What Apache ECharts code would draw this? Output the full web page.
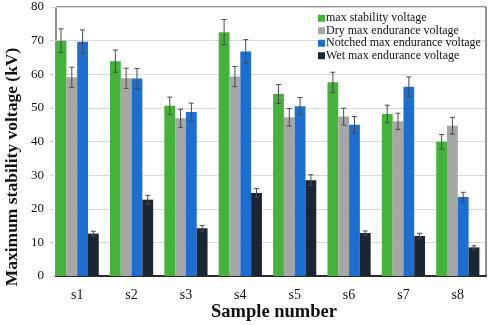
<!DOCTYPE html>
<html><head><meta charset="utf-8">
<script src="https://cdn.jsdelivr.net/npm/echarts@6/dist/echarts.min.js"></script>
<style>html,body{margin:0;padding:0;background:#fff}#c{width:491px;height:325px}</style>
</head><body><div id="c"></div>
<script>
const categories = ['s1','s2','s3','s4','s5','s6','s7','s8'];
const seriesNames = ['max stability voltage','Dry max endurance voltage','Notched max endurance voltage','Wet max endurance voltage'];
const maxStability = [70.0, 63.9, 50.6, 72.5, 54.1, 57.6, 48.2, 39.9];
const dryEndurance = [59.1, 58.8, 46.9, 59.3, 47.2, 47.4, 46.0, 44.7];
const notchedEndurance = [69.7, 58.7, 48.8, 66.8, 50.5, 45.0, 56.3, 23.5];
const wetEndurance = [12.6, 22.7, 14.2, 24.7, 28.5, 12.8, 11.9, 8.5];
const maxStabilityErr = [3.5, 3.3, 2.6, 3.8, 2.8, 3.0, 2.6, 2.2];
const dryEnduranceErr = [3.0, 3.0, 2.7, 3.0, 2.6, 2.5, 2.4, 2.5];
const notchedEnduranceErr = [3.5, 3.0, 2.6, 3.5, 2.6, 2.4, 2.9, 1.4];
const wetEnduranceErr = [0.7, 1.3, 0.8, 1.3, 1.6, 0.6, 0.8, 0.5];
const yTicks = [0,10,20,30,40,50,60,70,80];
const xTitle = 'Sample number';
const yTitle = 'Maximum stability voltage (kV)';

const colors = ['#45b23b','#a6a6a6','#1c6fd0','#1c2532'];
const values = [maxStability, dryEndurance, notchedEndurance, wetEndurance];
const errs = [maxStabilityErr, dryEnduranceErr, notchedEnduranceErr, wetEnduranceErr];
const BW = 10.8;
const serif = '"Liberation Serif", "Times New Roman", serif';

const series = [];
values.forEach((v, i) => {
  series.push({
    name: seriesNames[i], type: 'bar', data: v, barWidth: BW, barGap: '0%',
    itemStyle: { color: colors[i] }, xAxisIndex: 0, yAxisIndex: 0, z: 2
  });
});
values.forEach((v, i) => {
  series.push({
    type: 'custom', xAxisIndex: 0, yAxisIndex: 0, z: 5, silent: true,
    data: v.map((val, k) => [k, val - errs[i][k], val + errs[i][k]]),
    renderItem: function (params, api) {
      const lo = api.coord([api.value(0), api.value(1)]);
      const hi = api.coord([api.value(0), api.value(2)]);
      const x = lo[0] + (i - 1.5) * BW;
      const cap = 2.5;
      const st = { stroke: '#4a4a4a', lineWidth: 1 };
      return { type: 'group', children: [
        { type: 'line', shape: { x1: x, y1: lo[1], x2: x, y2: hi[1] }, style: st },
        { type: 'line', shape: { x1: x - cap, y1: lo[1], x2: x + cap, y2: lo[1] }, style: st },
        { type: 'line', shape: { x1: x - cap, y1: hi[1], x2: x + cap, y2: hi[1] }, style: st }
      ]};
    }
  });
});

const chart = echarts.init(document.getElementById('c'));
chart.setOption({
  animation: false,
  backgroundColor: '#fff',
  grid: [
    { left: 50, right: 6, top: 7, bottom: 49, containLabel: false, outerBoundsMode: 'none' },
    { left: 56, right: 5, top: 7, bottom: 49, show: true, borderColor: '#222', borderWidth: 1, backgroundColor: 'transparent', z: 0, outerBoundsMode: 'none' }
  ],
  legend: {
    orient: 'vertical', left: 313, top: 7, itemWidth: 7, itemHeight: 7, itemGap: 0,
    icon: 'rect', data: seriesNames,
    textStyle: { fontFamily: serif, fontSize: 12, lineHeight: 12.5, color: '#111', padding: [0,0,0,-4] }
  },
  graphic: [
    { type: 'text', silent: true, x: 274, y: 312,
      style: { text: xTitle, font: 'bold 18.5px ' + serif, fill: '#111', align: 'center', verticalAlign: 'middle' } },
    { type: 'text', silent: true, x: 12.5, y: 167, rotation: Math.PI / 2,
      style: { text: yTitle, font: 'bold 17.5px ' + serif, fill: '#111', align: 'center', verticalAlign: 'middle' } }
  ],
  xAxis: [
    { type: 'category', data: categories, gridIndex: 0,
      axisLine: { show: false }, axisTick: { show: false },
      axisLabel: { fontFamily: serif, fontSize: 14, color: '#111', margin: 12 } },
    { type: 'value', gridIndex: 1, min: 0, max: 1, show: true,
      axisLine: { show: true, lineStyle: { color: '#2a2a2a', width: 2 } },
      axisTick: { show: false }, axisLabel: { show: false }, splitLine: { show: false } }
  ],
  yAxis: [
    { type: 'value', gridIndex: 0, min: 0, max: 80, interval: 10,
      axisLine: { show: false }, axisTick: { show: false },
      axisLabel: { fontFamily: serif, fontSize: 13, color: '#111', margin: 6,
        formatter: v => yTicks.includes(v) ? String(v) : '' },
      splitLine: { lineStyle: { color: '#d9d9d9', width: 1 } } },
    { type: 'value', gridIndex: 1, min: 0, max: 1, show: false }
  ],
  series: series
});
</script></body></html>
